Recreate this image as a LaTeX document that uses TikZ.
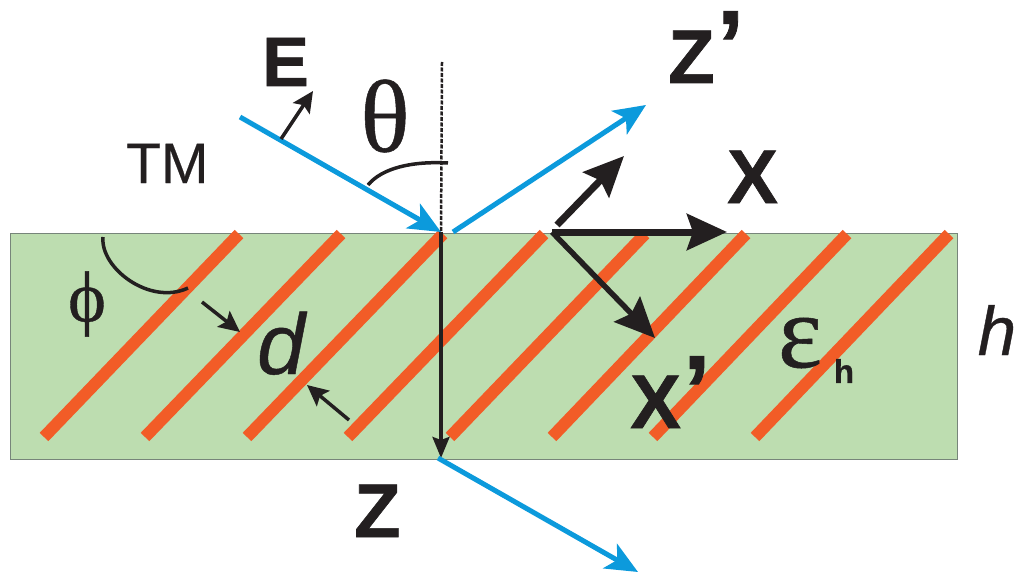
\documentclass[tikz,border=0pt]{standalone}
\usepackage{fontspec}
\setmainfont{Liberation Sans}
\newfontfamily\serifgr[FakeBold=0.5]{Liberation Serif}
\newfontfamily\hv[BoldFeatures={FakeBold=0.8},ItalicFeatures={FakeBold=0.5},UprightFeatures={FakeBold=0.3}]{Liberation Sans}
\usetikzlibrary{arrows.meta}
\definecolor{slabgreen}{HTML}{BDDDB0}
\definecolor{slabedge}{HTML}{77857A}
\definecolor{stripe}{HTML}{F25C27}
\definecolor{beam}{HTML}{0C9ADC}
\definecolor{ink}{HTML}{231F20}
\newcommand{\rprime}{\kern0.03em\raisebox{0.05em}{\scalebox{1.3}{’}}}
\tikzset{
  x=1pt,y=-1pt,
  stripeline/.style={stripe,line width=12pt},
  beamline/.style={beam,line width=5pt,-{Stealth[length=32pt,width=28pt,inset=8pt]}},
  bigarrow/.style={ink,line width=7pt,-{Stealth[length=40pt,width=36pt,inset=6pt]}},
  smallarrow/.style={ink,line width=3.5pt,-{Stealth[length=21pt,width=20pt,inset=4pt]}},
  thinarc/.style={ink,line width=3.5pt},
  lab/.style={inner sep=0pt,text=ink},
  axlab/.style={lab,anchor=base west,font=\hv\bfseries\fontsize{76}{76}\selectfont},
}
\begin{document}
\begin{tikzpicture}
\useasboundingbox (0,0) rectangle (1024,588);
\fill[white] (0,0) rectangle (1024,588);
\node[draw=slabedge,fill=slabgreen,line width=1pt,minimum width=947pt,minimum height=226pt,inner sep=0pt,anchor=north west] (slab) at (10,233) {};
\foreach \b/\t [count=\i] in {44/239,145/341,247/443,348/544,450/645,552/746,653/847,755/949}{
  \coordinate (sb\i) at (\b,437);
  \coordinate (st\i) at (\t,234);
  \draw[stripeline] (sb\i) -- (st\i);
}
% axis
\coordinate (top) at (442,62);
\coordinate (hit) at (441,232);
\coordinate (exit) at (438,458);
\coordinate (axend) at (441,458);
\draw[ink,line width=2.5pt,dash pattern=on 4pt off 1.5pt] (top) -- (hit);
\draw[ink,line width=3.5pt,-{Stealth[length=21pt,width=17pt,inset=3pt]}] (hit) -- (axend);
% beams
\coordinate (bin) at (240,117);
\coordinate (rs) at (453,232);
\coordinate (re) at (646,105);
\coordinate (te) at (638,572);
\draw[beamline] (bin) -- (hit);
\draw[beamline] (rs) -- (re);
\draw[beamline] (exit) -- (te);
% E
\coordinate (es) at (281,139);
\coordinate (ee) at (313,91);
\draw[smallarrow] (es) -- (ee);
% arcs
\coordinate (ta) at (368,185);
\coordinate (tb) at (448,163);
\draw[thinarc] (ta) .. controls (382,168) and (412,161) .. (tb);
\coordinate (pa) at (103,237);
\coordinate (pb) at (188,288);
\draw[thinarc] (pa) .. controls (100,268) and (150,306) .. (pb);
% d arrows
\coordinate (d1a) at (202,302);
\coordinate (d1b) at (240,332);
\coordinate (d2a) at (349,420);
\coordinate (d2b) at (307,385);
\draw[smallarrow] (d1a) -- (d1b);
\draw[smallarrow] (d2a) -- (d2b);
% axes
\coordinate (o) at (552,232);
\coordinate (xe) at (727,232);
\coordinate (zs) at (557,225);
\coordinate (ze) at (624,156);
\coordinate (xpe) at (655,338);
\draw[bigarrow] (o) -- (xe);
\draw[bigarrow] (zs) -- (ze);
\draw[bigarrow,line width=5.5pt] (o) -- (xpe);
% labels
\node[lab,anchor=base west,font=\hv\bfseries\fontsize{70}{70}\selectfont] (lE) at (262,86) {E};
\node[lab,anchor=base west,font=\hv\fontsize{57}{57}\selectfont] (lTM) at (126,183) {TM};
\node[lab,font=\serifgr\fontsize{103}{103}\selectfont] (lth) at (385,116) {θ};
\node[axlab] (lZp) at (668,83) {Z\rprime};
\node[axlab] (lX) at (727,203) {X};
\node[axlab] (lXp) at (630,428) {X\rprime};
\node[axlab] (lZ) at (354,537) {Z};
\node[lab,font=\serifgr\fontsize{72}{72}\selectfont] (lph) at (87,304) {ϕ};
\node[lab,anchor=base,font=\hv\itshape\fontsize{86}{86}\selectfont] (ld) at (281,374) {d};
\node[lab,anchor=base,font=\hv\itshape\fontsize{69}{69}\selectfont] (lh) at (997,355) {h};
\node[lab,font=\serifgr\fontsize{105}{105}\selectfont] (leps) at (800,343) {ε};
\node[lab,font=\hv\bfseries\fontsize{33}{33}\selectfont] (lhs) at (844,371) {h};
\end{tikzpicture}
\end{document}
